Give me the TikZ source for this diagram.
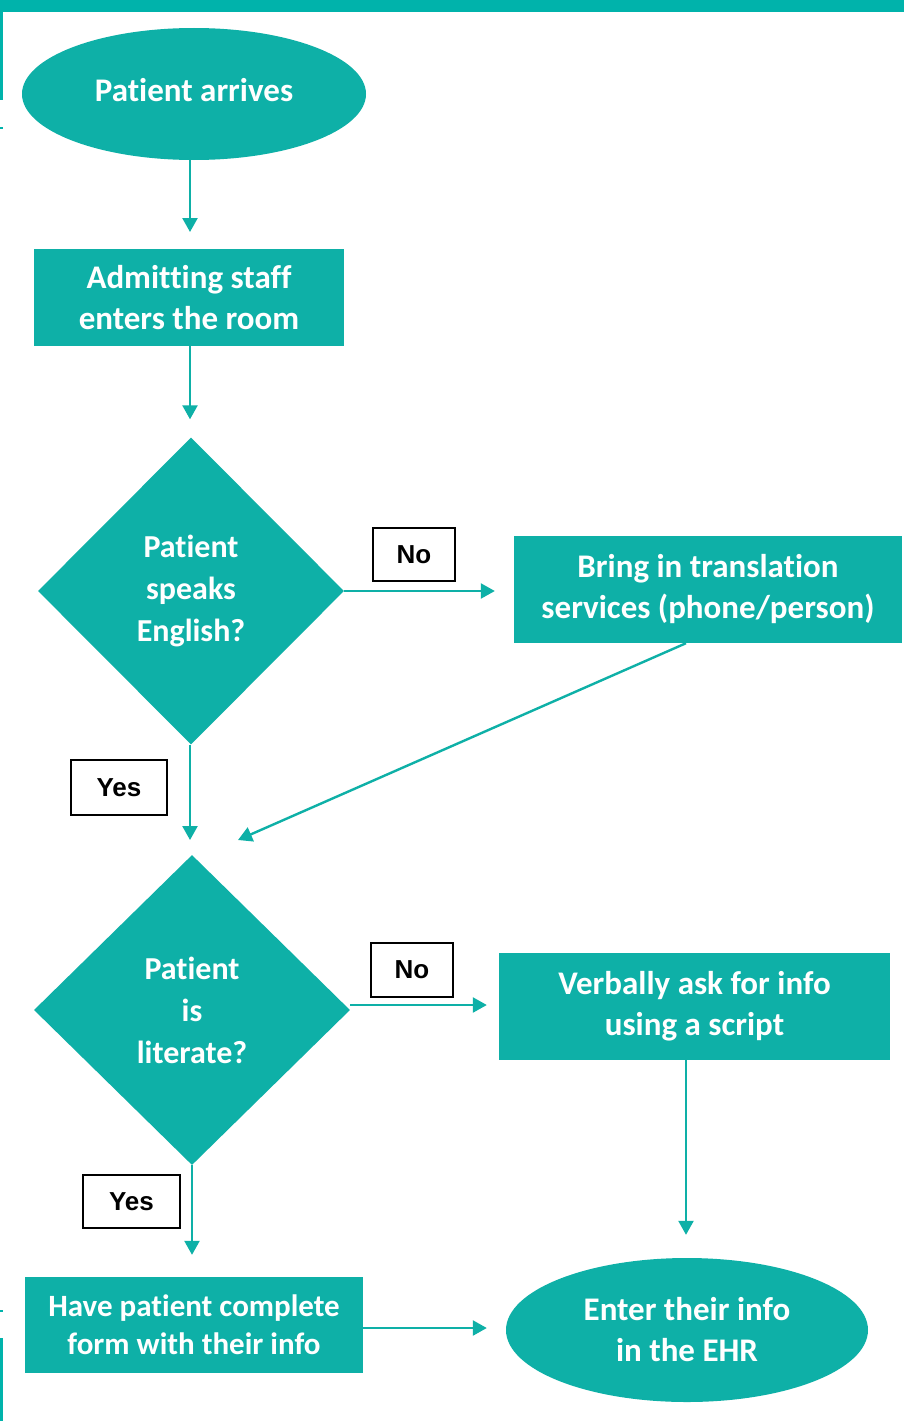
\documentclass[tikz,border=0pt]{standalone}
\usepackage{fontspec}
\setmainfont{Carlito}[Ligatures=NoCommon]
\newfontfamily\lblfont{Liberation Sans}
\usetikzlibrary{shapes.geometric,arrows.meta,calc}
\definecolor{tealc}{RGB}{14,176,167}
\definecolor{tealbar}{RGB}{0,179,171}
\tikzset{
  shapetxt/.style={fill=tealc, draw=none, text=white, font=\fontsize{33}{41}\selectfont\bfseries, align=center, inner sep=0pt},
  ellnode/.style={shapetxt, ellipse},
  boxnode/.style={shapetxt, rectangle},
  decnode/.style={shapetxt, diamond, font=\fontsize{32}{42}\selectfont\bfseries},
  lblbox/.style={draw=black, line width=1.6pt, fill=white, rectangle, inner sep=0pt, font=\lblfont\fontsize{26}{30}\selectfont\bfseries},
  arr/.style={draw=tealc, line width=2.4pt, -{Triangle[width=15pt,length=14pt]}}
}
\begin{document}
\begin{tikzpicture}[x=1pt,y=-1pt]
\useasboundingbox (0,0) rectangle (904,1421);
\fill[white] (0,0) rectangle (904,1421);
% frame fragments
\fill[tealbar] (0,0) rectangle (904,12);
\fill[tealbar] (0,12) rectangle (3,100);
\fill[tealbar] (0,1338) rectangle (3,1421);
\fill[tealbar] (0,127) rectangle (3,129);
\fill[tealbar] (0,1310) rectangle (3,1312);

% nodes
\node[ellnode, minimum width=344pt, minimum height=132pt] (pa) at (194,94) {\raisebox{9pt}{Patient arrives}};
\node[boxnode, minimum width=310pt, minimum height=97pt] (adm) at (189,297.5) {Admitting staff\\enters the room};
\node[decnode, minimum width=306pt, minimum height=307pt] (d1) at (191,591) {Patient\\speaks\\English?};
\node[boxnode, minimum width=388pt, minimum height=107pt] (trans) at (708,589.5) {Bring in translation\\services (phone/person)};
\node[decnode, minimum width=316pt, minimum height=310pt] (d2) at (192,1010) {Patient\\is\\literate?};
\node[boxnode, minimum width=391pt, minimum height=107pt] (verb) at (694.5,1006.5) {Verbally ask for info\\using a script};
\node[boxnode, minimum width=338pt, minimum height=96pt, font=\fontsize{31}{38}\selectfont\bfseries] (form) at (194,1325) {Have patient complete\\form with their info};
\node[ellnode, minimum width=362pt, minimum height=144pt] (ehr) at (687,1330) {Enter their info\\in the EHR};

% labels
\node[lblbox, minimum width=82pt, minimum height=53pt] (no1) at (414,554.5) {No};
\node[lblbox, minimum width=82pt, minimum height=54pt] (no2) at (412,970) {No};
\node[lblbox, minimum width=96pt, minimum height=55pt] (yes1) at (119,787.5) {Yes};
\node[lblbox, minimum width=97pt, minimum height=53pt] (yes2) at (131.5,1201.5) {Yes};

% connectors
\coordinate (m1) at (238,840);
\draw[arr, shorten >=17pt] (pa.south -| 190,0) -- (190,249);
\draw[arr, shorten >=18pt] (adm.south -| 190,0) -- (d1.north -| 190,0);
\draw[arr, shorten >=19pt] (d1.east) -- (trans.west |- d1.east);
\draw[arr] ($(trans.south)+(-22,0)$) -- (m1);
\draw[arr, shorten >=15pt] (d1.south -| 190,0) -- (190,855);
\draw[arr, shorten >=12pt] (d2.east |- 0,1005) -- (verb.west |- 0,1005);
\draw[arr, shorten >=23pt] (verb.south -| 686,0) -- (ehr.north -| 686,0);
\draw[arr, shorten >=22pt] (d2.south) -- (form.north -| d2.south);
\draw[arr, shorten >=19pt] (form.east |- 0,1328) -- (ehr.west |- 0,1328);
\end{tikzpicture}
\end{document}
